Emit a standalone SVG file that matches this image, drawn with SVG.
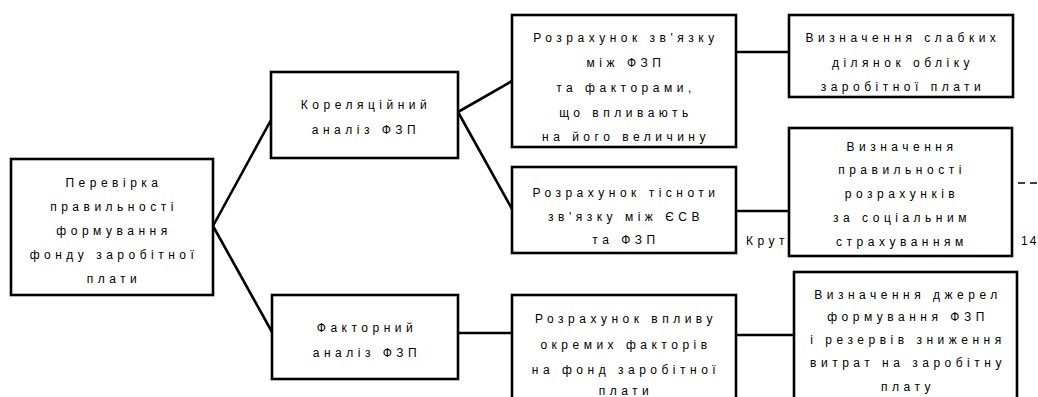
<svg xmlns="http://www.w3.org/2000/svg" width="1038" height="397" viewBox="0 0 1038 397">
<style>
rect.box{fill:#fff;stroke:#000;stroke-width:2.6}
.conn line{stroke:#000;stroke-width:2.6}
text{font-family:"Liberation Sans",Arial,sans-serif;font-size:12px;fill:#000;letter-spacing:4.5px;text-anchor:middle}
text.l{text-anchor:start}
text.n{letter-spacing:2px}
</style>
<rect width="1038" height="397" fill="#fff"/>
<text class="l" x="746" y="245">Крут</text>
<text class="l n" x="1021" y="245">14</text>
<line x1="1018" y1="183" x2="1038" y2="183" stroke="#000" stroke-width="1.3" stroke-dasharray="7 5"/>
<g class="conn">
<line x1="213" y1="226" x2="271" y2="120"/>
<line x1="213" y1="226" x2="272" y2="332"/>
<line x1="458" y1="112" x2="512" y2="81"/>
<line x1="458" y1="112" x2="512" y2="209"/>
<line x1="736" y1="52" x2="789" y2="52"/>
<line x1="736" y1="211" x2="789" y2="211"/>
<line x1="458" y1="333" x2="512" y2="333"/>
<line x1="736" y1="335" x2="794" y2="335"/>
</g>
<g id="n1"><rect class="box" x="11" y="159" width="202" height="136"/>
<text x="114" y="187">Перевірка</text><text x="114" y="211">правильності</text><text x="114" y="235">формування</text><text x="114" y="259">фонду заробітної</text><text x="114" y="283">плати</text></g>
<g id="n2"><rect class="box" x="271" y="72" width="187" height="86"/>
<text x="366" y="109">Кореляційний</text><text x="366" y="134">аналіз ФЗП</text></g>
<g id="n3"><rect class="box" x="512" y="15" width="224" height="132"/>
<text x="626" y="42">Розрахунок зв'язку</text><text x="626" y="67">між ФЗП</text><text x="626" y="92">та факторами,</text><text x="626" y="117">що впливають</text><text x="626" y="141">на його величину</text></g>
<g id="n4"><rect class="box" x="512" y="167" width="224" height="86"/>
<text x="626" y="197">Розрахунок тісноти</text><text x="626" y="221">зв'язку між ЄСВ</text><text x="626" y="244">та ФЗП</text></g>
<g id="n5"><rect class="box" x="789" y="15" width="224" height="82"/>
<text x="903" y="42">Визначення слабких</text><text x="903" y="67">ділянок обліку</text><text x="903" y="91">заробітної плати</text></g>
<g id="n6"><rect class="box" x="789" y="128" width="223" height="128"/>
<text x="902" y="151">Визначення</text><text x="902" y="174">правильності</text><text x="902" y="198">розрахунків</text><text x="902" y="222">за соціальним</text><text x="902" y="246">страхуванням</text></g>
<g id="n7"><rect class="box" x="272" y="295" width="186" height="84"/>
<text x="367" y="332">Факторний</text><text x="367" y="357">аналіз ФЗП</text></g>
<g id="n8"><rect class="box" x="512" y="295" width="224" height="120"/>
<text x="626" y="323">Розрахунок впливу</text><text x="626" y="349">окремих факторів</text><text x="626" y="374">на фонд заробітної</text><text x="626" y="395">плати</text></g>
<g id="n9"><rect class="box" x="794" y="272" width="223" height="140"/>
<text x="908" y="299">Визначення джерел</text><text x="908" y="321">формування ФЗП</text><text x="908" y="344">і резервів зниження</text><text x="908" y="367">витрат на заробітну</text><text x="908" y="391">плату</text></g>
</svg>
